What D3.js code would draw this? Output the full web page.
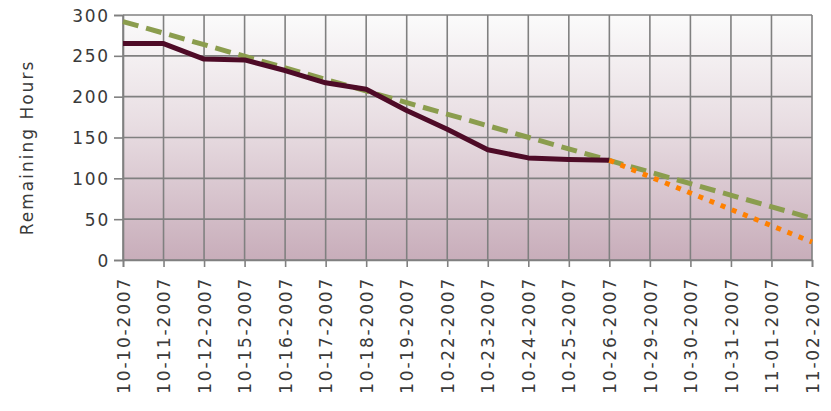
<!DOCTYPE html>
<html>
<head>
<meta charset="utf-8">
<script src="https://cdn.jsdelivr.net/npm/d3@7/dist/d3.min.js"></script>
<style>
  html, body { margin: 0; padding: 0; background: #ffffff; }
  svg { display: block; }
  text { font-family: "DejaVu Sans", Verdana, sans-serif; fill: #3a3a3a; }
</style>
</head>
<body>
<svg id="chart" width="831" height="411"></svg>
<script>
// Sprint burndown: remaining hours per working day
const dates = ["10-10-2007", "10-11-2007", "10-12-2007", "10-15-2007", "10-16-2007",
  "10-17-2007", "10-18-2007", "10-19-2007", "10-22-2007", "10-23-2007", "10-24-2007",
  "10-25-2007", "10-26-2007", "10-29-2007", "10-30-2007", "10-31-2007", "11-01-2007",
  "11-02-2007"];

// Actual remaining hours (recorded days only)
const actualDates = dates.slice(0, 13);
const actualValues = [265, 265, 246, 245, 232, 217, 209, 183, 160, 135, 125, 123, 122];

// Ideal burndown (straight line from sprint start to sprint end)
const idealDates = ["10-10-2007", "11-02-2007"];
const idealValues = [292, 51];

// Projected trend for the remaining days
const projDates = ["10-26-2007", "10-29-2007", "10-30-2007", "10-31-2007", "11-01-2007", "11-02-2007"];
const projValues = [122, 102, 82, 62, 42, 22];

const yTicks = [0, 50, 100, 150, 200, 250, 300];

const svg = d3.select("#chart");
const margin = { left: 123, right: 19, top: 15, bottom: 151 };
const W = 831, H = 411;
const plotW = W - margin.left - margin.right;
const plotH = H - margin.top - margin.bottom;

const x = d3.scalePoint().domain(dates).range([0, plotW]);
const y = d3.scaleLinear().domain([0, 300]).range([plotH, 0]);

const defs = svg.append("defs");
const grad = defs.append("linearGradient")
  .attr("id", "plotBg").attr("x1", 0).attr("y1", 0).attr("x2", 0).attr("y2", 1);
grad.append("stop").attr("offset", "0%").attr("stop-color", "#fbfbfb");
grad.append("stop").attr("offset", "45%").attr("stop-color", "#e8dde2");
grad.append("stop").attr("offset", "100%").attr("stop-color", "#c8adba");

const g = svg.append("g").attr("transform", `translate(${margin.left},${margin.top})`);

g.append("rect")
  .attr("width", plotW).attr("height", plotH)
  .attr("fill", "url(#plotBg)");

// Grid lines
const gridColor = "#808080";
g.append("g").selectAll("line").data(yTicks).join("line")
  .attr("x1", 0).attr("x2", plotW)
  .attr("y1", d => y(d)).attr("y2", d => y(d))
  .attr("stroke", gridColor).attr("stroke-width", 1.6);
g.append("g").selectAll("line").data(dates).join("line")
  .attr("x1", d => x(d)).attr("x2", d => x(d))
  .attr("y1", 0).attr("y2", plotH)
  .attr("stroke", gridColor).attr("stroke-width", 1.6);

// Axes
const yAxis = g.append("g")
  .call(d3.axisLeft(y).tickValues(yTicks).tickSize(9).tickPadding(4));
const xAxis = g.append("g").attr("transform", `translate(0,${plotH})`)
  .call(d3.axisBottom(x).tickSize(7).tickPadding(0));

[yAxis, xAxis].forEach(a => {
  a.select(".domain").attr("stroke", gridColor).attr("stroke-width", 1.6);
  a.selectAll(".tick line").attr("stroke", gridColor).attr("stroke-width", 1.6);
});

yAxis.selectAll(".tick text")
  .attr("font-size", 17)
  .attr("letter-spacing", "1.8px")
  .attr("dy", "0.36em")
  .style("fill", "#3a3a3a");

xAxis.selectAll(".tick text")
  .attr("font-size", 17)
  .attr("letter-spacing", "1.8px")
  .attr("text-anchor", "end")
  .attr("transform", "rotate(-90)")
  .attr("x", -17)
  .attr("y", 0)
  .attr("dy", "0.36em")
  .style("fill", "#3a3a3a");

// Axis title
svg.append("text")
  .attr("transform", `translate(33,${margin.top + plotH / 2 + 10}) rotate(-90)`)
  .attr("text-anchor", "middle")
  .attr("font-size", 17)
  .attr("letter-spacing", "2px")
  .text("Remaining Hours");

// Series
const lineGen = (ds, vs) => d3.line()
  .x((d, i) => x(ds[i]))
  .y(d => y(d))(vs);

g.append("path")
  .attr("d", lineGen(idealDates, idealValues))
  .attr("fill", "none")
  .attr("stroke", "#8b9d4e")
  .attr("stroke-width", 5)
  .attr("stroke-dasharray", "16,8");

g.append("path")
  .attr("d", lineGen(actualDates, actualValues))
  .attr("fill", "none")
  .attr("stroke", "#4e0b27")
  .attr("stroke-width", 5)
  .attr("stroke-linejoin", "round");

g.append("path")
  .attr("d", lineGen(projDates, projValues))
  .attr("fill", "none")
  .attr("stroke", "#ff8000")
  .attr("stroke-width", 5)
  .attr("stroke-dasharray", "5,7");
</script>
</body>
</html>
